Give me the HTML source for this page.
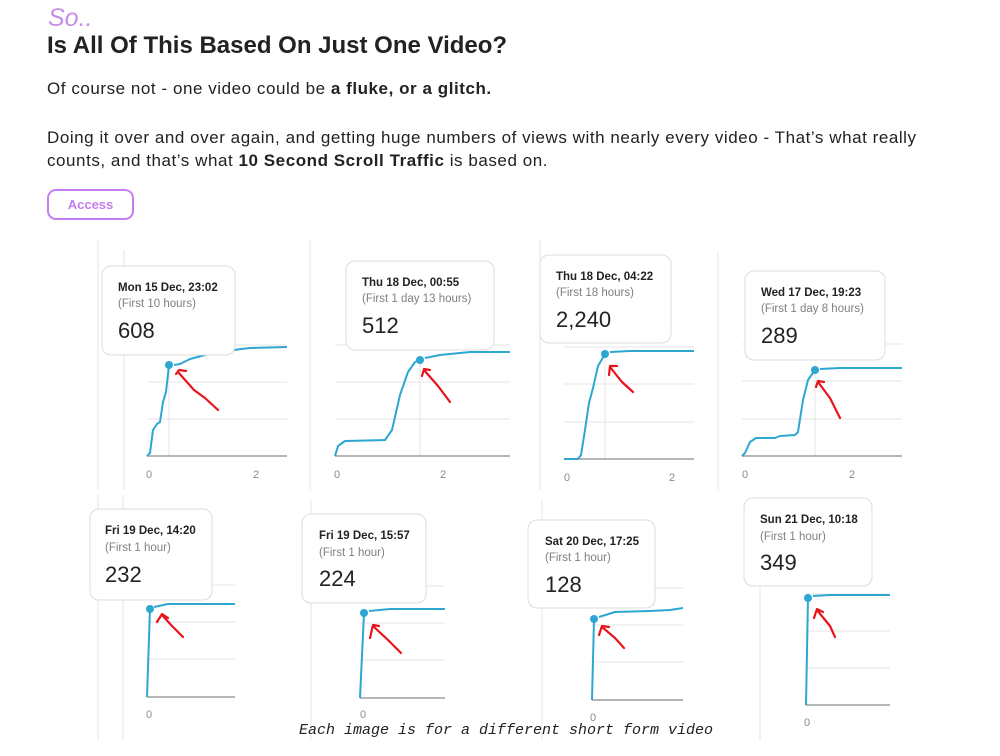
<!DOCTYPE html>
<html><head><meta charset="utf-8"><style>
html,body{margin:0;padding:0;background:#fff;width:1000px;height:756px;overflow:hidden}
body{font-family:"Liberation Sans",sans-serif;color:#222;position:relative}
.a{position:absolute;white-space:nowrap}
svg{position:absolute;left:0;top:0}
</style></head><body>
<div class="a" style="left:48px;top:4px;font-size:25px;font-style:italic;color:#c58ee9">So..</div>
<div class="a" style="left:47px;top:32px;font-size:24px;font-weight:bold;letter-spacing:0;color:#222">Is All Of This Based On Just One Video?</div>
<div class="a" style="left:47px;top:79px;font-size:17px;letter-spacing:0.55px;color:#222">Of course not - one video could be <b>a fluke, or a glitch.</b></div>
<div class="a" style="left:47px;top:126px;font-size:17px;letter-spacing:0.55px;color:#222;line-height:23px">Doing it over and over again, and getting huge numbers of views with nearly every video - That’s what really<br>counts, and that’s what <b>10 Second Scroll Traffic</b> is based on.</div>
<div class="a" style="left:47px;top:189px;width:83px;height:27px;border:2px solid #c67df0;border-radius:9px;text-align:center;line-height:27px;font-size:13px;font-weight:bold;color:#c67df0">Access</div>

<svg width="1000" height="756" viewBox="0 0 1000 756" font-family="Liberation Sans, sans-serif">
<g stroke="#e6e6e6" stroke-width="1" fill="none">
<line x1="98" y1="240" x2="98" y2="490"/><line x1="124" y1="250" x2="124" y2="490"/>
<line x1="310" y1="240" x2="310" y2="490"/><line x1="540" y1="240" x2="540" y2="490"/><line x1="718" y1="252" x2="718" y2="490"/>
<line x1="98" y1="495" x2="98" y2="740"/><line x1="123" y1="495" x2="123" y2="740"/>
<line x1="311" y1="500" x2="311" y2="740"/><line x1="542" y1="500" x2="542" y2="740"/><line x1="760" y1="500" x2="760" y2="740"/>
<line x1="147" y1="419" x2="287" y2="419"/><line x1="147" y1="382" x2="287" y2="382"/><line x1="147" y1="345" x2="287" y2="345"/>
<line x1="335" y1="419" x2="510" y2="419"/><line x1="335" y1="382" x2="510" y2="382"/><line x1="335" y1="345" x2="510" y2="345"/>
<line x1="564" y1="422" x2="694" y2="422"/><line x1="564" y1="384" x2="694" y2="384"/><line x1="564" y1="347" x2="694" y2="347"/>
<line x1="742" y1="419" x2="902" y2="419"/><line x1="742" y1="381" x2="902" y2="381"/><line x1="742" y1="344" x2="902" y2="344"/>
<line x1="147" y1="659" x2="235" y2="659"/><line x1="147" y1="622" x2="235" y2="622"/><line x1="147" y1="585" x2="235" y2="585"/>
<line x1="360" y1="660" x2="445" y2="660"/><line x1="360" y1="623" x2="445" y2="623"/><line x1="360" y1="586" x2="445" y2="586"/>
<line x1="592" y1="662" x2="683" y2="662"/><line x1="592" y1="625" x2="683" y2="625"/><line x1="592" y1="588" x2="683" y2="588"/>
<line x1="806" y1="668" x2="890" y2="668"/><line x1="806" y1="631" x2="890" y2="631"/><line x1="806" y1="594" x2="890" y2="594"/>
<line x1="169" y1="365" x2="169" y2="456"/><line x1="420" y1="360" x2="420" y2="456"/><line x1="605" y1="354" x2="605" y2="459"/><line x1="815" y1="370" x2="815" y2="456"/>
</g>
<g stroke="#9e9e9e" stroke-width="1.5">
<line x1="147" y1="456" x2="287" y2="456"/><line x1="335" y1="456" x2="510" y2="456"/><line x1="564" y1="459" x2="694" y2="459"/><line x1="742" y1="456" x2="902" y2="456"/>
<line x1="147" y1="697" x2="235" y2="697"/><line x1="360" y1="698" x2="445" y2="698"/><line x1="592" y1="700" x2="683" y2="700"/><line x1="806" y1="705" x2="890" y2="705"/>
</g>
<g fill="#8a8a8a" font-size="11" text-anchor="middle">
<text x="149" y="478">0</text><text x="256" y="478">2</text>
<text x="337" y="478">0</text><text x="443" y="478">2</text>
<text x="567" y="481">0</text><text x="672" y="481">2</text>
<text x="745" y="478">0</text><text x="852" y="478">2</text>
<text x="149" y="718">0</text><text x="363" y="718">0</text><text x="593" y="721">0</text><text x="807" y="726">0</text>
</g>
<g stroke="#2ea6d2" stroke-width="2" fill="none" stroke-linejoin="round">
<path d="M147 456 L150 453 L153 430 L157 424 L160 422 L163 402 L166 392 L169 365 M174 365 L180 364 L190 359 L205 355 L225 351 L250 348 L287 347"/>
<path d="M335 456 L338 446 L345 441 L385 440 L392 430 L400 395 L408 372 L415 362 L420 360 M425 358 L440 355 L470 352 L510 352"/>
<path d="M564 459 L578 459 L581 455 L585 430 L589 403 L593 388 L598 366 L605 354 M610 352 L630 351 L694 351"/>
<path d="M742 456 L745 453 L750 442 L756 438 L775 438 L780 436 L795 435 L798 432 L803 400 L808 380 L815 370 M820 369 L840 368 L902 368"/>
<path d="M147 697 L150 609 M154 607 L168 604 L185 604 L235 604"/>
<path d="M360 698 L364 613 M369 611 L390 609 L445 609"/>
<path d="M592 700 L594 619 M599 617 L615 612 L650 611 L670 610 L683 608"/>
<path d="M806 705 L808 598 M813 596 L830 595 L890 595"/>
</g>
<g fill="#2ea6d2">
<circle cx="169" cy="365" r="4"/><circle cx="420" cy="360" r="4"/><circle cx="605" cy="354" r="4"/><circle cx="815" cy="370" r="4"/>
<circle cx="150" cy="609" r="4"/><circle cx="364" cy="613" r="4"/><circle cx="594" cy="619" r="4"/><circle cx="808" cy="598" r="4"/>
</g>
<g stroke="#e8141c" stroke-width="2.2" fill="none" stroke-linecap="round" stroke-linejoin="round">
<path d="M176 374 L179 370 L186 371 M178 372 L194 390 L205 398 L218 410"/>
<path d="M422 376 L424 369 L430 370 M424 370 L438 386 L450 402"/>
<path d="M609 375 L610 366 L617 366 M610 367 L622 382 L633 392"/>
<path d="M816 387 L818 381 L824 382 M818 382 L830 398 L840 418"/>
<path d="M157 622 L162 614 L168 618 M162 615 L172 626 L183 637"/>
<path d="M370 638 L373 625 L379 626 M373 626 L388 640 L401 653"/>
<path d="M599 635 L602 626 L609 627 M602 627 L615 638 L624 648"/>
<path d="M814 618 L817 609 L823 612 M817 610 L830 626 L835 637"/>
</g>
<g fill="#fff" stroke="#dcdcdc" stroke-width="1">
<rect x="102" y="266" width="133" height="89" rx="9"/>
<rect x="346" y="261" width="148" height="89" rx="9"/>
<rect x="540" y="255" width="131" height="88" rx="9"/>
<rect x="745" y="271" width="140" height="89" rx="9"/>
<rect x="90" y="509" width="122" height="91" rx="9"/>
<rect x="302" y="514" width="124" height="89" rx="9"/>
<rect x="528" y="520" width="127" height="88" rx="9"/>
<rect x="744" y="498" width="128" height="88" rx="9"/>
</g>
<g font-size="11.5" font-weight="bold" fill="#222">
<text x="118" y="291">Mon 15 Dec, 23:02</text><text x="362" y="286">Thu 18 Dec, 00:55</text>
<text x="556" y="280">Thu 18 Dec, 04:22</text><text x="761" y="296">Wed 17 Dec, 19:23</text>
<text x="105" y="534">Fri 19 Dec, 14:20</text><text x="319" y="539">Fri 19 Dec, 15:57</text>
<text x="545" y="545">Sat 20 Dec, 17:25</text><text x="760" y="523">Sun 21 Dec, 10:18</text>
</g>
<g font-size="11.5" fill="#808080">
<text x="118" y="307">(First 10 hours)</text><text x="362" y="302">(First 1 day 13 hours)</text>
<text x="556" y="296">(First 18 hours)</text><text x="761" y="312">(First 1 day 8 hours)</text>
<text x="105" y="551">(First 1 hour)</text><text x="319" y="556">(First 1 hour)</text>
<text x="545" y="561">(First 1 hour)</text><text x="760" y="540">(First 1 hour)</text>
</g>
<g font-size="22" fill="#222">
<text x="118" y="338">608</text><text x="362" y="333">512</text>
<text x="556" y="327">2,240</text><text x="761" y="343">289</text>
<text x="105" y="582">232</text><text x="319" y="586">224</text>
<text x="545" y="592">128</text><text x="760" y="570">349</text>
</g>
<text x="506" y="734" text-anchor="middle" font-family="Liberation Mono, monospace" font-style="italic" font-size="15" fill="#222">Each image is for a different short form video</text>
</svg>
</body></html>
